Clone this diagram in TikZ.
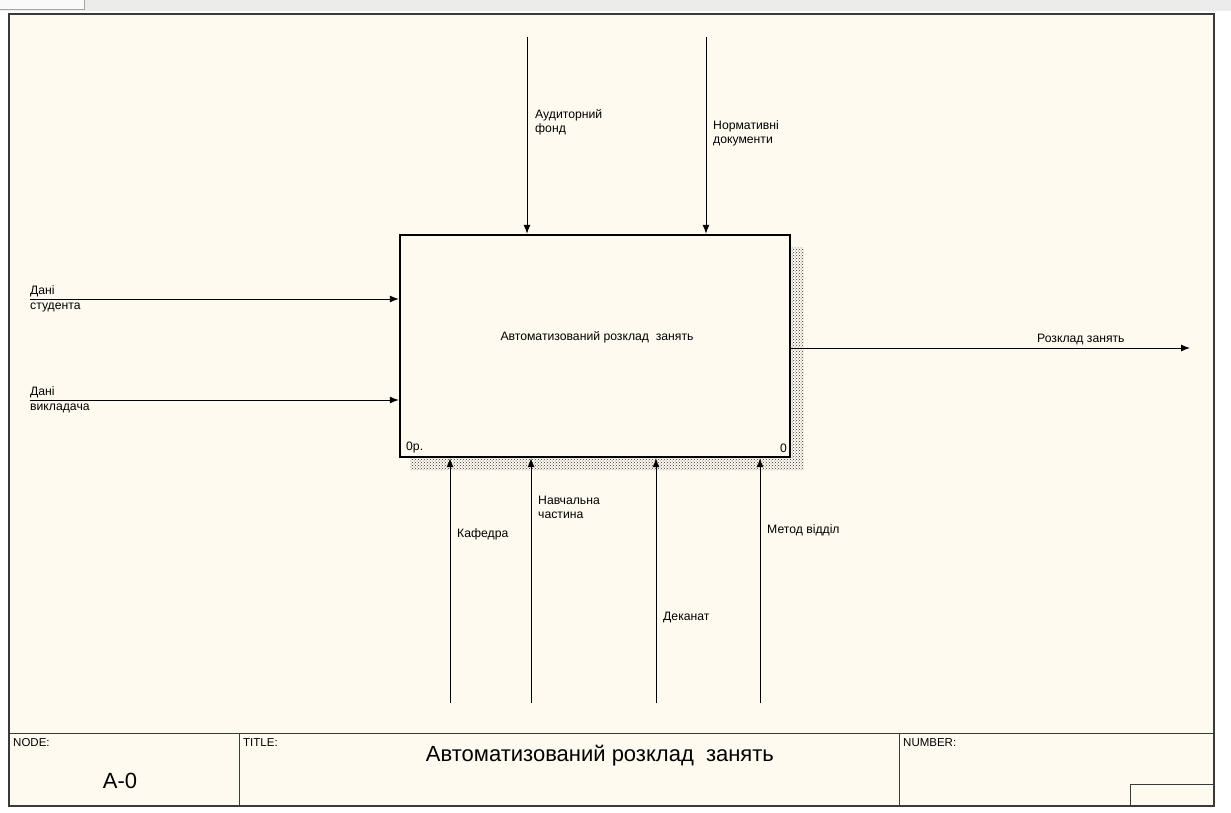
\documentclass[tikz,border=0pt]{standalone}
\usepackage{fontspec}
\setmainfont{Liberation Sans}
\usetikzlibrary{arrows.meta,patterns}
\definecolor{cream}{HTML}{FFFAF0}
\definecolor{chrome}{HTML}{ECECEC}
\definecolor{framec}{HTML}{3A3A3A}
\tikzset{
  arr/.style={line width=1pt,-{Latex[length=9pt,width=7pt]}},
  lbl/.style={font=\fontsize{12.2}{14}\selectfont,align=left,inner sep=0pt},
  hdr/.style={font=\fontsize{11.5}{13}\selectfont,inner sep=0pt,anchor=north west},
}
\begin{document}
\begin{tikzpicture}[x=1pt,y=-1pt]
\useasboundingbox (0,0) rectangle (1231,812);
\fill[white] (0,0) rectangle (1231,812);
\fill[chrome] (0,0) rectangle (1231,11);
\draw[gray!70,fill=white!96!gray] (-2,-2) -- (84,-2) -- (84,9) -- (-2,9);
\draw[framec,line width=1.6pt,fill=cream] (9,14) rectangle (1214,806);
% title block
\draw[framec,line width=1pt] (9,733) -- (1214,733);
\draw[framec,line width=1pt] (239,733) -- (239,806);
\draw[framec,line width=1pt] (899,733) -- (899,806);
\draw[framec,line width=1pt] (1130,806) -- (1130,784) -- (1214,784);
\node[hdr] (nodeh) at (13,738) {NODE:};
\node[hdr] (titleh) at (243,738) {TITLE:};
\node[hdr] (numh) at (903,738) {NUMBER:};
\node[font=\fontsize{22}{26}\selectfont,inner sep=0pt] (nodev) at (120,781) {A-0};
\node[font=\fontsize{22}{26}\selectfont,inner sep=0pt] (titlev) at (600,756) {Автоматизований розклад\ \ занять};
% shadow
\fill[pattern=crosshatch dots,pattern color=black!80] (790,247) -- (804,247) -- (804,470) -- (410,470) -- (410,457) -- (790,457) -- cycle;
% main box
\node[draw,line width=2.4pt,fill=cream,minimum width=390pt,minimum height=222pt,inner sep=0pt] (box) at (595,346) {};
\node[lbl] (boxt) at (597,337) {Автоматизований розклад\ \ занять};
\node[lbl,anchor=south west] (bl) at (406,453) {0р.};
\node[lbl,anchor=south east] (br) at (787,453) {0};
% controls (top)
\coordinate (t1) at (527,37);
\coordinate (t2) at (706,37);
\draw[arr] (t1) -- (t1 |- box.north);
\draw[arr] (t2) -- (t2 |- box.north);
\node[lbl,anchor=north west] (lt1) at (535,109) {Аудиторний\\фонд};
\node[lbl,anchor=north west] (lt2) at (713,120) {Нормативні\\документи};
% inputs (left)
\coordinate (i1) at (30,299);
\coordinate (i2) at (30,400);
\draw[arr] (i1) -- (i1 -| box.west);
\draw[arr] (i2) -- (i2 -| box.west);
\node[lbl,anchor=south west] (li1a) at (30,297) {Дані};
\node[lbl,anchor=north west] (li1b) at (30,303) {студента};
\node[lbl,anchor=south west] (li2a) at (30,398) {Дані};
\node[lbl,anchor=north west] (li2b) at (30,404) {викладача};
% output
\coordinate (o1) at (1190,348);
\draw[arr] (o1 -| box.east) -- (o1);
\node[lbl,anchor=south west] (lo1) at (1037,345) {Розклад занять};
% mechanisms (bottom)
\coordinate (m1) at (450,703);
\coordinate (m2) at (531,703);
\coordinate (m3) at (656,703);
\coordinate (m4) at (760,703);
\draw[arr] (m1) -- (m1 |- box.south);
\draw[arr] (m2) -- (m2 |- box.south);
\draw[arr] (m3) -- (m3 |- box.south);
\draw[arr] (m4) -- (m4 |- box.south);
\node[lbl,anchor=west] (lm1) at (457,534) {Кафедра};
\node[lbl,anchor=north west] (lm2) at (538,496) {Навчальна\\частина};
\node[lbl,anchor=west] (lm3) at (663,618) {Деканат};
\node[lbl,anchor=west] (lm4) at (767,530) {Метод відділ};
\end{tikzpicture}
\end{document}
